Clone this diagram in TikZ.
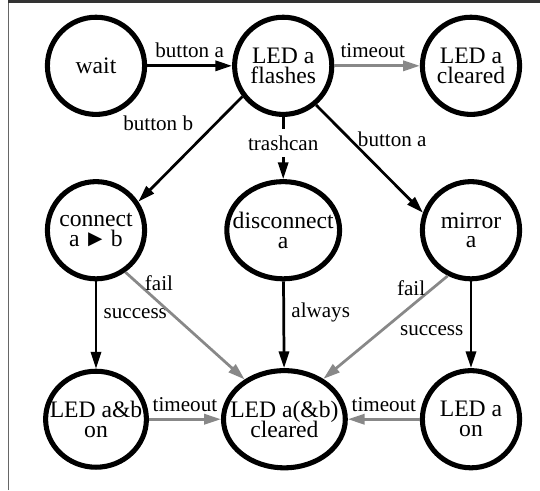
\documentclass[tikz,border=0pt]{standalone}
\usepackage{fontspec}
\setmainfont{Liberation Serif}
\usetikzlibrary{positioning, arrows.meta, shapes.geometric}
\definecolor{edgegray}{HTML}{888888}
\newcommand{\stfont}{\fontsize{11.2}{9.4}\selectfont\lineskiplimit=-5pt\relax}
\tikzset{
  st/.style={
    draw, ellipse, line width=2.4pt,
    minimum width=1.62cm, minimum height=1.62cm,
    inner sep=0pt
  },
  sttxt/.style={
    font=\stfont, align=center, inner sep=0pt
  },
  lbl/.style={font=\fontsize{10}{12}\selectfont, text=black, inner sep=3pt},
  tr/.style={-{Triangle[length=0.28cm, width=0.17cm]}, line width=1.3pt},
  gtr/.style={tr, edgegray},
}
\begin{document}
\begin{tikzpicture}
  \useasboundingbox (0,0) rectangle (9,8.167);
  \draw[line width=0.7pt, black!60] (0.14,0) -- (0.14,8.14);
  \draw[line width=1.4pt, black!80] (0.14,8.14) -- (9,8.14);
  % states
  \node[st, label={[sttxt]center:wait}] (wait) at (1.60, 7.07) {};
  \node[st, label={[sttxt]center:LED a\\flashes}] (flash) at (4.72, 7.07) {};
  \node[st, label={[sttxt]center:LED a\\cleared}] (clra) at (7.85, 7.07) {};
  \node[st, label={[sttxt]center:connect\\a\,►\,b}] (conn) at (1.60, 4.33) {};
  \node[st, minimum width=1.88cm,
    label={[sttxt]center:disconnect\\a}] (disc) at (4.72, 4.33) {};
  \node[st, label={[sttxt]center:mirror\\a}] (mirr) at (7.85, 4.33) {};
  \node[st, minimum width=1.68cm, minimum height=1.60cm,
    label={[sttxt]center:LED a\&b\\on}] (abon) at (1.60, 1.18) {};
  \node[st, minimum width=2.03cm,
    label={[sttxt]center:LED a(\&b)\\cleared}] (clrab) at (4.74, 1.18) {};
  \node[st, label={[sttxt]center:LED a\\on}] (aon) at (7.85, 1.18) {};
  % transitions
  \draw[tr] (wait) -- node[lbl, above] {button a} (flash);
  \draw[gtr] (flash) -- node[lbl, pos=0.45, above] {timeout} (clra);
  \draw[tr] (flash.217) -- node[lbl, pos=0.4, above left] {button b} (conn.34);
  \draw[tr] (flash) -- node[lbl, pos=0.42, fill=white] {trashcan} (disc);
  \draw[tr] (flash.-50) -- node[lbl, pos=0.32, right] {button a} (mirr.160);
  \draw[tr] (conn) -- node[lbl, pos=0.37, right] {success} (abon);
  \draw[gtr] (conn.-55) -- node[lbl, pos=0.1, right] {fail} (clrab.135);
  \draw[tr] (disc) -- node[lbl, pos=0.36, right] {always} (clrab);
  \draw[gtr] (mirr.243) -- node[lbl, pos=0.12, left] {fail} (clrab.46);
  \draw[tr] (mirr) -- node[lbl, pos=0.57, left] {success} (aon);
  \draw[gtr] (abon) -- node[lbl, above] {timeout} (clrab);
  \draw[gtr] (aon) -- node[lbl, above] {timeout} (clrab);
\end{tikzpicture}
\end{document}
